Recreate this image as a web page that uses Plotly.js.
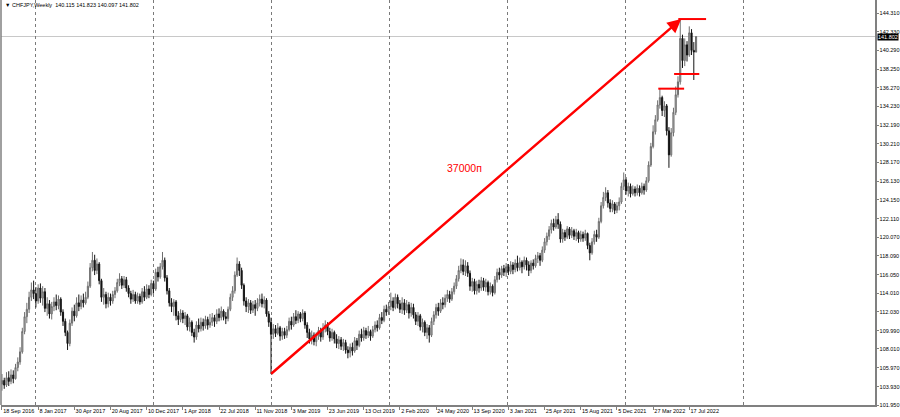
<!DOCTYPE html>
<html>
<head>
<meta charset="utf-8">
<script src="https://cdn.plot.ly/plotly-3.0.1.min.js"></script>
<style>html,body{margin:0;padding:0;background:#fff;}#chart{width:900px;height:417px;}</style>
</head>
<body>
<div id="chart"></div>
<script>
// Weekly bars start on Sunday 18 Sep 2016
const firstBar = '2016-09-18';

const opens = [
104.2,104.6,104.1,104.9,104.5,105.2,104.8,106.0,106.6,107.7,
109.9,111.5,112.3,113.6,114.4,114.0,113.2,114.6,113.5,114.2,
112.4,112.9,111.8,112.6,113.1,112.7,113.4,112.0,111.0,109.8,
108.6,110.8,112.1,111.6,113.0,112.6,113.3,113.0,113.6,114.8,
116.8,117.6,116.5,117.2,115.4,113.6,113.9,112.9,113.6,113.2,
113.9,114.3,115.2,115.6,114.9,115.5,114.6,114.0,113.4,113.9,
113.2,113.7,113.1,114.2,113.6,114.5,113.9,115.1,114.5,116.3,
115.8,116.9,117.6,115.7,114.3,113.0,112.6,113.1,111.6,111.2,
111.9,111.3,111.6,110.4,110.9,109.8,109.3,110.6,110.2,110.9,
110.5,111.2,110.6,110.9,111.4,111.0,111.8,111.4,112.1,111.5,
111.3,112.3,113.6,114.3,116.0,117.2,116.5,114.9,113.2,112.6,
113.0,112.2,112.8,112.4,113.0,113.4,112.9,113.3,111.8,110.9,
109.6,110.2,109.7,110.3,109.4,109.9,109.5,110.1,111.0,110.6,
111.5,111.1,111.8,111.3,111.9,110.6,109.8,109.1,109.5,108.8,
109.4,110.0,109.3,110.2,110.6,109.9,109.2,109.8,109.1,108.6,
109.0,108.3,108.7,107.9,107.6,108.2,107.8,108.9,108.4,109.6,
109.2,110.0,109.5,109.9,109.4,110.1,110.6,110.3,111.4,111.1,
112.3,112.0,112.6,113.2,112.5,113.6,112.9,112.3,113.0,112.2,
112.8,111.9,112.5,111.7,111.0,111.6,110.4,110.9,109.8,110.3,
109.5,111.0,111.7,112.5,112.1,113.0,112.8,113.5,113.9,113.4,
114.2,114.8,115.6,116.5,117.1,116.4,117.0,116.2,114.8,115.3,
114.3,115.0,114.6,115.4,114.7,115.2,114.2,114.8,114.1,115.5,
116.3,116.0,116.7,116.3,116.9,116.4,117.1,116.6,117.3,116.8,
117.4,116.9,117.6,117.1,116.5,117.3,117.0,117.8,118.1,117.6,
118.7,119.6,120.2,120.9,121.6,121.2,122.0,121.5,119.9,120.6,
120.1,121.0,120.3,120.8,120.2,120.6,119.9,120.4,120.0,120.5,
119.2,118.4,119.6,120.4,120.1,121.8,123.5,124.4,124.9,123.8,
123.2,123.7,123.0,123.5,123.9,125.6,126.3,125.1,125.6,124.8,
125.3,124.9,125.4,124.9,125.6,125.2,126.2,127.9,129.9,131.5,
132.8,134.4,135.2,133.8,134.3,131.6,129.0,131.4,133.6,135.5,
136.9,141.6,139.2,140.9,139.8,142.2,140.3,140.115
];
const highs = [
105.3,104.9,105.5,105.6,105.8,105.7,106.4,107.1,108.2,110.3,
112.0,113.0,114.2,115.2,115.4,114.7,115.0,115.1,114.8,114.6,
113.6,113.3,113.1,113.6,113.9,113.8,113.6,112.3,111.3,110.0,
111.2,112.5,112.8,113.6,113.9,113.8,114.0,114.2,115.3,117.3,
118.5,118.2,117.8,117.4,115.6,114.6,114.2,114.1,114.0,114.3,
114.7,115.6,116.2,115.9,115.9,115.8,114.9,114.3,114.4,114.2,
114.1,114.0,114.6,114.8,115.0,114.9,115.5,115.4,116.7,116.9,
117.3,118.5,117.9,116.0,114.6,113.5,113.4,113.3,112.1,112.3,
112.2,112.0,111.8,111.4,111.1,110.2,111.0,111.3,111.4,111.3,
111.6,111.5,111.8,111.9,111.7,112.3,112.4,112.6,112.3,112.0,
112.6,114.0,114.8,116.4,117.9,117.5,116.8,115.1,113.6,113.4,
113.3,113.2,113.3,113.5,113.9,114.0,113.7,113.5,112.1,111.4,
110.7,110.6,110.8,110.5,110.3,110.3,110.5,111.4,111.5,111.9,
112.2,112.1,112.0,112.3,112.1,110.9,110.2,110.0,109.8,109.8,
110.4,110.3,110.8,111.1,110.9,110.3,110.2,110.0,109.6,109.4,
109.3,109.1,109.0,108.3,108.6,108.7,109.3,109.2,110.0,110.2,
110.4,110.3,110.5,110.1,110.5,111.0,111.1,111.8,112.0,112.7,
112.8,113.1,114.1,113.6,114.0,113.9,113.3,113.6,113.4,113.3,
113.1,113.0,112.9,112.0,112.0,111.8,111.3,111.1,110.7,110.6,
111.4,112.1,112.9,113.0,113.4,113.6,113.9,114.4,114.3,114.6,
115.2,116.0,117.0,117.8,117.7,117.6,117.4,116.5,115.7,115.6,
115.4,115.5,115.8,115.7,115.6,115.4,115.2,115.0,115.9,116.7,
116.8,117.0,117.1,117.3,117.2,117.5,117.4,117.7,118.1,117.9,
117.6,118.0,117.9,117.5,117.6,117.7,118.2,118.5,118.4,119.1,
120.0,120.6,121.3,122.0,122.1,122.4,122.7,121.8,121.0,120.9,
121.3,121.2,121.2,121.0,121.0,120.8,120.8,120.7,120.9,120.6,
119.5,120.0,120.8,120.9,122.2,123.9,125.0,125.5,125.2,124.2,
124.1,123.9,123.9,124.4,126.0,127.1,126.6,126.0,125.9,125.7,
125.6,125.8,125.7,126.0,125.9,126.6,128.3,130.3,132.2,133.3,
134.9,136.2,135.4,134.8,134.5,132.0,131.9,134.1,136.4,137.5,
143.7,142.0,141.6,141.3,142.9,142.6,141.2,141.823
];
const lows = [
103.5,103.7,103.9,104.0,104.2,104.3,104.7,105.6,106.3,107.5,
109.6,110.8,111.9,113.2,113.4,112.5,112.9,113.0,112.7,112.0,
111.6,111.3,111.2,112.1,112.2,112.3,111.6,110.5,109.4,107.9,
108.3,110.5,111.0,111.4,112.1,112.3,112.5,112.8,113.4,114.6,
116.4,116.0,116.1,115.0,113.1,112.8,112.4,112.5,112.7,112.9,
113.5,114.1,114.8,114.5,114.6,114.2,113.6,112.9,113.1,112.9,
112.9,112.8,112.9,113.2,113.4,113.5,113.7,114.0,114.3,115.3,
115.6,116.6,115.3,113.9,112.6,112.0,111.6,111.1,110.6,110.9,
110.8,110.6,110.0,109.9,109.4,108.7,109.0,109.8,109.9,110.0,
110.2,110.1,110.3,110.5,110.4,110.7,111.0,111.1,111.1,110.7,
111.0,112.1,113.2,114.0,115.8,115.9,114.5,112.7,112.0,111.9,
111.8,111.9,111.6,112.1,112.6,112.5,112.4,111.5,110.4,105.3,
109.1,109.3,109.5,108.9,109.0,109.1,109.2,109.9,110.1,110.4,
110.7,110.8,110.9,111.0,110.2,109.2,108.6,108.5,108.4,108.3,
109.0,108.8,109.0,109.8,109.5,108.8,108.9,108.6,108.1,108.0,
107.9,107.8,107.5,107.0,107.1,107.3,107.6,107.9,108.2,108.8,
108.9,109.1,109.2,108.9,109.2,109.8,109.9,110.1,110.7,110.9,
111.6,111.7,112.2,112.1,112.3,112.4,111.9,111.8,111.7,111.9,
111.3,111.5,111.3,110.6,110.5,110.0,109.8,109.4,109.1,108.7,
109.3,110.6,111.3,111.6,111.9,112.3,112.5,113.1,113.0,113.2,
113.9,114.5,115.3,116.2,116.0,115.9,115.8,114.3,114.2,113.9,
113.9,114.1,114.3,114.3,114.2,113.8,113.9,113.7,113.9,115.2,
115.5,115.7,115.9,115.8,116.0,116.1,116.1,116.3,116.4,116.5,
116.2,116.6,116.5,115.9,116.2,116.6,116.8,117.3,117.0,117.4,
118.4,119.2,119.8,120.5,120.8,121.0,121.0,119.5,119.5,119.7,
119.9,119.9,120.0,119.8,119.7,119.5,119.6,119.6,119.7,118.8,
117.6,118.2,119.3,119.6,119.9,121.6,123.2,124.0,123.3,122.8,
122.8,122.6,122.7,123.0,123.7,125.2,124.7,124.5,124.4,124.6,
124.5,124.6,124.5,124.7,124.7,125.0,126.0,127.7,129.7,131.2,
132.6,134.0,133.2,133.1,131.1,127.6,128.8,131.0,133.3,135.2,
136.6,138.4,138.6,139.1,139.6,139.8,137.1,140.097
];
const closes = [
104.6,104.1,104.9,104.5,105.2,104.8,106.0,106.6,107.7,109.9,
111.5,112.3,113.6,114.4,114.0,113.2,114.6,113.5,114.2,112.4,
112.9,111.8,112.6,113.1,112.7,113.4,112.0,111.0,109.8,108.6,
110.8,112.1,111.6,113.0,112.6,113.3,113.0,113.6,114.8,116.8,
117.6,116.5,117.2,115.4,113.6,113.9,112.9,113.6,113.2,113.9,
114.3,115.2,115.6,114.9,115.5,114.6,114.0,113.4,113.9,113.2,
113.7,113.1,114.2,113.6,114.5,113.9,115.1,114.5,116.3,115.8,
116.9,117.6,115.7,114.3,113.0,112.6,113.1,111.6,111.2,111.9,
111.3,111.6,110.4,110.9,109.8,109.3,110.6,110.2,110.9,110.5,
111.2,110.6,110.9,111.4,111.0,111.8,111.4,112.1,111.5,111.3,
112.3,113.6,114.3,116.0,117.2,116.5,114.9,113.2,112.6,113.0,
112.2,112.8,112.4,113.0,113.4,112.9,113.3,111.8,110.9,109.6,
110.2,109.7,110.3,109.4,109.9,109.5,110.1,111.0,110.6,111.5,
111.1,111.8,111.3,111.9,110.6,109.8,109.1,109.5,108.8,109.4,
110.0,109.3,110.2,110.6,109.9,109.2,109.8,109.1,108.6,109.0,
108.3,108.7,107.9,107.6,108.2,107.8,108.9,108.4,109.6,109.2,
110.0,109.5,109.9,109.4,110.1,110.6,110.3,111.4,111.1,112.3,
112.0,112.6,113.2,112.5,113.6,112.9,112.3,113.0,112.2,112.8,
111.9,112.5,111.7,111.0,111.6,110.4,110.9,109.8,110.3,109.5,
111.0,111.7,112.5,112.1,113.0,112.8,113.5,113.9,113.4,114.2,
114.8,115.6,116.5,117.1,116.4,117.0,116.2,114.8,115.3,114.3,
115.0,114.6,115.4,114.7,115.2,114.2,114.8,114.1,115.5,116.3,
116.0,116.7,116.3,116.9,116.4,117.1,116.6,117.3,116.8,117.4,
116.9,117.6,117.1,116.5,117.3,117.0,117.8,118.1,117.6,118.7,
119.6,120.2,120.9,121.6,121.2,122.0,121.5,119.9,120.6,120.1,
121.0,120.3,120.8,120.2,120.6,119.9,120.4,120.0,120.5,119.2,
118.4,119.6,120.4,120.1,121.8,123.5,124.4,124.9,123.8,123.2,
123.7,123.0,123.5,123.9,125.6,126.3,125.1,125.6,124.8,125.3,
124.9,125.4,124.9,125.6,125.2,126.2,127.9,129.9,131.5,132.8,
134.4,135.2,133.8,134.3,131.6,129.0,131.4,133.6,135.5,136.9,
141.6,139.2,140.9,139.8,142.2,140.3,140.115,141.802
];

// axis tick labels
const xTickDates = ['2016-09-18','2017-01-08','2017-04-30','2017-08-20','2017-12-10','2018-04-01','2018-07-22','2018-11-11','2019-03-03','2019-06-23','2019-10-13','2020-02-02','2020-05-24','2020-09-13','2021-01-03','2021-04-25','2021-08-15','2021-12-05','2022-03-27','2022-07-17'];
const xTickLabels = ['18 Sep 2016','8 Jan 2017','30 Apr 2017','20 Aug 2017','10 Dec 2017','1 Apr 2018','22 Jul 2018','11 Nov 2018','3 Mar 2019','23 Jun 2019','13 Oct 2019','2 Feb 2020','24 May 2020','13 Sep 2020','3 Jan 2021','25 Apr 2021','15 Aug 2021','5 Dec 2021','27 Mar 2022','17 Jul 2022'];
const yTickVals = [101.95,103.93,105.97,108.01,109.99,112.03,114.01,116.05,118.09,120.07,122.11,124.15,126.13,128.17,130.21,132.19,134.23,136.27,138.25,140.29,142.33,144.31];
const yearSeparators = ['2017-01-01','2018-01-01','2019-01-01','2020-01-01','2021-01-01','2022-01-01','2023-01-01'];

const lastPrice = 141.802;
const headerText = 'CHFJPY,Weekly  140.115 141.823 140.097 141.802';
// drawn objects (analysis marks)
const arrowFrom = {date:'2018-12-26', price:105.19};
const arrowTo = {date:'2022-06-22', price:143.69};
const levelLines = [
  {from:'2022-06-13', to:'2022-09-07', price:143.69},
  {from:'2022-05-31', to:'2022-08-17', price:137.75},
  {from:'2022-04-12', to:'2022-07-01', price:136.16}
];
const pipsLabel = {text:'37000п', date:'2020-08-21', price:127.63};

// weekly dates
const dates = [];
{
  const d0 = new Date(firstBar + 'T00:00:00Z');
  for (let i = 0; i < closes.length; i++) {
    const d = new Date(d0.getTime() + i * 7 * 86400000);
    dates.push(d.toISOString().slice(0,10));
  }
}

const fontFam = 'Liberation Sans, Arial, sans-serif';

const trace = {
  type: 'candlestick',
  x: dates, open: opens, high: highs, low: lows, close: closes,
  increasing: {line: {color: '#6e6e6e', width: 1}, fillcolor: '#c4c4c4'},
  decreasing: {line: {color: '#141414', width: 1}, fillcolor: '#141414'},
  whiskerwidth: 0,
  hoverinfo: 'skip',
  showlegend: false
};

const shapes = [
  {type:'line', xref:'paper', x0:0, x1:1, yref:'y', y0:lastPrice, y1:lastPrice, line:{color:'#c8c8c8', width:1}, layer:'below'},
  {type:'line', xref:'paper', x0:0, x1:0, yref:'paper', y0:0, y1:1, line:{color:'#808080', width:1.5}}
];
levelLines.forEach(l => shapes.push({type:'line', xref:'x', yref:'y', x0:l.from, x1:l.to, y0:l.price, y1:l.price, line:{color:'#ff0000', width:2}}));

const annotations = [
  {xref:'x', yref:'y', x:arrowTo.date, y:arrowTo.price, axref:'x', ayref:'y', ax:arrowFrom.date, ay:arrowFrom.price,
   text:'', showarrow:true, arrowhead:2, arrowsize:1.1, arrowwidth:2.5, arrowcolor:'#ff0000', standoff:0, startstandoff:0},
  {xref:'x', yref:'y', x:pipsLabel.date, y:pipsLabel.price, text:pipsLabel.text, showarrow:false,
   font:{family:fontFam, size:10.5, color:'#ff0000'}},
  {xref:'paper', yref:'paper', x:0, y:1, xanchor:'left', yanchor:'top', xshift:2, yshift:0, showarrow:false,
   text:'▼ ' + headerText, font:{family:fontFam, size:5.5, color:'#000'}},
  {xref:'paper', yref:'y', x:1, y:lastPrice, xanchor:'left', yanchor:'middle', xshift:2, showarrow:false,
   text:lastPrice.toFixed(3), bgcolor:'#000', borderpad:0, font:{family:fontFam, size:5.5, color:'#fff'}}
];

const layout = {
  width: 900, height: 417,
  margin: {l:1, r:25, t:0, b:12, pad:0},
  paper_bgcolor: '#fff', plot_bgcolor: '#fff',
  showlegend: false,
  xaxis: {
    type:'date', range:['2016-09-15','2024-02-12'],
    rangeslider:{visible:false},
    tickmode:'array', tickvals:xTickDates, ticktext:xTickLabels,
    tickangle:0,
    ticks:'outside', ticklen:3, tickcolor:'#808080', tickwidth:1,
    ticklabelposition:'outside right',
    tickfont:{family:fontFam, size:5.5, color:'#000'},
    showline:true, linecolor:'#808080', linewidth:1.5,
    showgrid:false, zeroline:false,
    minor:{tickmode:'array', tickvals:yearSeparators, showgrid:true, gridcolor:'#7a7a7a', griddash:'dot', gridwidth:1, ticks:''},
    fixedrange:true
  },
  yaxis: {
    side:'right', range:[101.95, 145.75],
    tickmode:'array', tickvals:yTickVals, ticktext:yTickVals.map(v => v.toFixed(3)),
    ticks:'outside', ticklen:2, tickcolor:'#808080',
    tickfont:{family:fontFam, size:5.5, color:'#000'},
    showline:true, linecolor:'#808080', linewidth:1.5,
    showgrid:false, zeroline:false, fixedrange:true
  },
  shapes: shapes,
  annotations: annotations
};

Plotly.newPlot('chart', [trace], layout, {staticPlot:true, displayModeBar:false});
</script>
</body>
</html>
